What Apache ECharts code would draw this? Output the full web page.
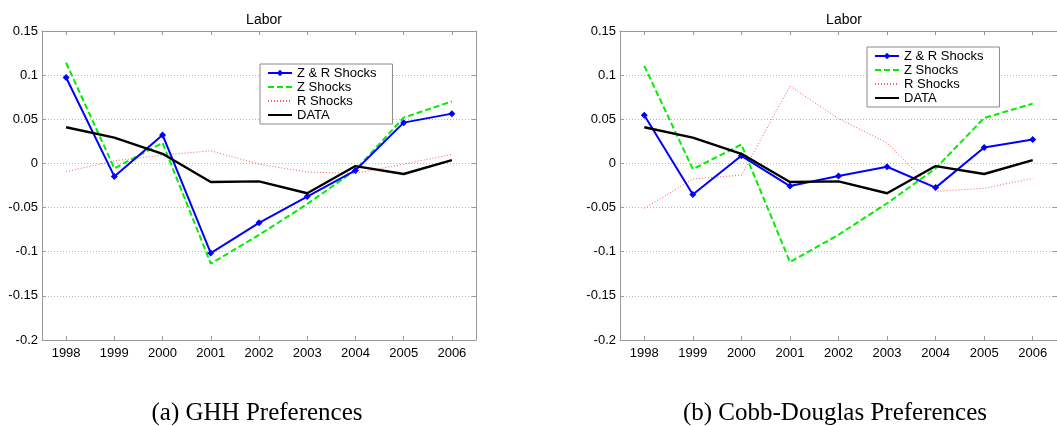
<!DOCTYPE html>
<html>
<head>
<meta charset="utf-8">
<script src="https://cdn.jsdelivr.net/npm/echarts@6/dist/echarts.min.js"></script>
<style>
html,body{margin:0;padding:0;background:#fff;}
#c{width:1057px;height:426px;}
</style>
</head>
<body>
<div id="c"></div>
<script>
const years = ['1998','1999','2000','2001','2002','2003','2004','2005','2006'];
const yTicks = {min: -0.2, max: 0.15, interval: 0.05};
const seriesNames = ['Z & R Shocks', 'Z Shocks', 'R Shocks', 'DATA'];
const captions = ['(a) GHH Preferences', '(b) Cobb-Douglas Preferences'];
const panelTitle = 'Labor';

// (a) GHH Preferences
const ghhZR   = [0.0974, -0.0147, 0.0323, -0.1015, -0.0673, -0.0376, -0.0079, 0.0462, 0.0564];
const ghhZ    = [0.1140, -0.0056, 0.0233, -0.1135, -0.0810, -0.0460, -0.0075, 0.0519, 0.0703];
const ghhR    = [-0.0094, 0.0030, 0.0094, 0.0143, -0.0008, -0.0098, -0.0113, -0.0008, 0.0102];
// (b) Cobb-Douglas Preferences
const cdZR    = [0.0545, -0.0353, 0.0086, -0.0256, -0.0143, -0.0038, -0.0274, 0.0180, 0.0271];
const cdZ     = [0.1105, -0.0064, 0.0214, -0.1117, -0.0808, -0.0451, -0.0056, 0.0515, 0.0677];
const cdR     = [-0.0508, -0.0177, -0.0132, 0.0876, 0.0508, 0.0233, -0.0316, -0.0282, -0.0169];
// DATA (same in both panels)
const dataLabor = [0.0410, 0.0293, 0.0109, -0.0210, -0.0203, -0.0338, -0.0030, -0.0120, 0.0038];

const panels = [
  {zr: ghhZR, z: ghhZ, r: ghhR, d: dataLabor, left: 42, width: 434, legendLeft: 260, legendTop: 64},
  {zr: cdZR,  z: cdZ,  r: cdR,  d: dataLabor, left: 620, width: 438, legendLeft: 867, legendTop: 47}
];

const font = 'Liberation Sans, Arial, sans-serif';
const axisGray = '#9a9a9a';

const grid = [], xAxis = [], yAxis = [], series = [], legend = [], title = [];
panels.forEach((p, i) => {
  grid.push({left: p.left, top: 31, width: p.width, height: 309, containLabel: false});
  const xBase = {
    type: 'category', data: years, gridIndex: i, boundaryGap: true,
    axisLine: {show: true, onZero: false, lineStyle: {color: axisGray, width: 1}},
    axisTick: {show: true, inside: true, alignWithLabel: true, length: 4, lineStyle: {color: axisGray}},
    splitLine: {show: false}
  };
  xAxis.push(Object.assign({}, xBase, {position: 'bottom',
    axisLabel: {show: true, color: '#000', fontFamily: font, fontSize: 13, margin: 7}}));
  xAxis.push(Object.assign({}, xBase, {position: 'top', axisLabel: {show: false}}));
  const yBase = {
    type: 'value', gridIndex: i, min: yTicks.min, max: yTicks.max, interval: yTicks.interval,
    axisLine: {show: true, onZero: false, lineStyle: {color: axisGray, width: 1}},
    axisTick: {show: true, inside: true, length: 4, lineStyle: {color: axisGray}}
  };
  yAxis.push(Object.assign({}, yBase, {position: 'left',
    axisLabel: {show: true, color: '#000', fontFamily: font, fontSize: 13, margin: 4,
      formatter: v => String(Math.round(v * 100) / 100)},
    splitLine: {show: true, lineStyle: {color: '#b5b5b5', type: [1, 2], width: 1}}}));
  yAxis.push(Object.assign({}, yBase, {position: 'right', axisLabel: {show: false}, splitLine: {show: false}}));

  const xi = i * 2, yi = i * 2;
  series.push({name: seriesNames[0], type: 'line', xAxisIndex: xi, yAxisIndex: yi, data: p.zr,
    symbol: 'diamond', symbolSize: 7, showSymbol: true,
    lineStyle: {color: '#0000ff', width: 2}, itemStyle: {color: '#0000ff'}, z: 5});
  series.push({name: seriesNames[1], type: 'line', xAxisIndex: xi, yAxisIndex: yi, data: p.z,
    symbol: 'none', lineStyle: {color: '#00ee00', width: 2, type: [6, 3]}, itemStyle: {color: '#00ee00'}, z: 4});
  series.push({name: seriesNames[2], type: 'line', xAxisIndex: xi, yAxisIndex: yi, data: p.r,
    symbol: 'none', lineStyle: {color: '#ff5a5a', width: 1, type: [1, 2]}, itemStyle: {color: '#ff5a5a'}, z: 3});
  series.push({name: seriesNames[3], type: 'line', xAxisIndex: xi, yAxisIndex: yi, data: p.d,
    symbol: 'none', lineStyle: {color: '#000', width: 2.4}, itemStyle: {color: '#000'}, z: 6});

  legend.push({
    orient: 'vertical', left: p.legendLeft, top: p.legendTop,
    data: seriesNames.map((n, k) => k === 0 ? {name: n} : {name: n, itemStyle: {opacity: 0}}),
    backgroundColor: '#fff', borderColor: '#8a8a8a', borderWidth: 1, borderRadius: 0,
    padding: [2, 16, 2, 7], itemGap: 0, itemWidth: 24, itemHeight: 8,
    textStyle: {color: '#000', fontFamily: font, fontSize: 13, lineHeight: 14},
    selectedMode: false
  });
  title.push({text: panelTitle, left: p.left + p.width / 2, top: 8, textAlign: 'center',
    textStyle: {color: '#000', fontFamily: font, fontSize: 14, fontWeight: 'normal'}});
});
title.push({text: captions[0], left: 252, top: 396, textAlign: 'center',
  textStyle: {color: '#000', fontFamily: 'Liberation Serif, serif', fontSize: 25, fontWeight: 'normal'}});
title.push({text: captions[1], left: 830, top: 396, textAlign: 'center',
  textStyle: {color: '#000', fontFamily: 'Liberation Serif, serif', fontSize: 25, fontWeight: 'normal'}});

const chart = echarts.init(document.getElementById('c'), null, {renderer: 'canvas'});
chart.setOption({
  animation: false, backgroundColor: '#fff',
  title, grid, xAxis, yAxis, series, legend
});
</script>
</body>
</html>
